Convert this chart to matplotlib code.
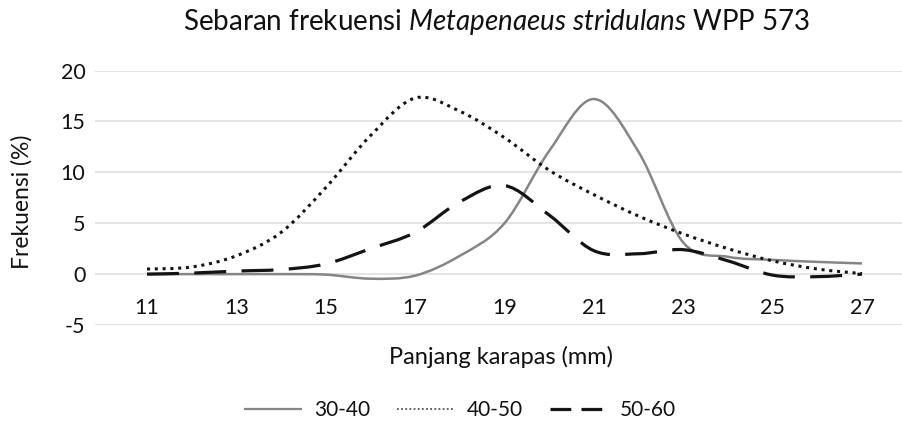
import matplotlib
matplotlib.use("Agg")
import matplotlib.pyplot as plt
from matplotlib.path import Path
from matplotlib.patches import PathPatch
from matplotlib.lines import Line2D
import numpy as np

# ── data ─────────────────────────────────────────────────────────────
panjang = [11, 12, 13, 14, 15, 16, 17, 18, 19, 20, 21, 22, 23, 24, 25, 26, 27]
tick_labels = ["11", "13", "15", "17", "19", "21", "23", "25", "27"]

frek_30_40 = [0, 0, 0, 0, -0.05, -0.45, -0.15, 1.8, 5.0, 12.1, 17.2, 12.0,
              3.1, 1.7, 1.4, 1.2, 1.05]
frek_40_50 = [0.5, 0.7, 1.8, 4.1, 8.5, 13.6, 17.3, 16.0, 13.4, 10.2, 7.8, 5.7,
              3.95, 2.5, 1.3, 0.5, 0.05]
frek_50_60 = [0.0, 0.1, 0.3, 0.45, 1.0, 2.5, 4.1, 7.1, 8.7, 5.8, 2.3, 2.0,
              2.4, 1.3, -0.1, -0.25, 0.0]

series_names = ["30-40", "40-50", "50-60"]

plt.rcParams['font.family'] = ['Lato', 'DejaVu Sans']
plt.rcParams['mathtext.fontset'] = 'custom'
plt.rcParams['mathtext.it'] = 'Lato:italic'
plt.rcParams['mathtext.rm'] = 'Lato'
plt.rcParams['axes.unicode_minus'] = False

TXT = '#111111'


def smooth_path(x, y):
    """Excel-like smoothed line: cubic Bezier segments through the points."""
    pts = np.column_stack([x, y]).astype(float)
    n = len(pts)
    verts = [pts[0]]
    codes = [Path.MOVETO]
    for i in range(n - 1):
        p0 = pts[max(i - 1, 0)]
        p1 = pts[i]
        p2 = pts[i + 1]
        p3 = pts[min(i + 2, n - 1)]
        verts += [p1 + (p2 - p0) / 6, p2 - (p3 - p1) / 6, p2]
        codes += [Path.CURVE4] * 3
    return Path(verts, codes)


styles = [
    dict(color='#858585', lw=1.8, ls='-'),
    dict(color='#141414', lw=2.2, ls=(0, (1, 1.55))),
    dict(color='#141414', lw=2.3, ls=(0, (10, 4.8))),
]
legend_styles = [
    dict(color='#858585', lw=1.6, ls='-'),
    dict(color='#555555', lw=1.3, ls=(0, (1, 1.3))),
    dict(color='#141414', lw=2.3, ls=(0, (6.5, 3.2))),
]

fig = plt.figure(figsize=(9.03, 4.21), dpi=100)
ax = fig.add_axes([0.1052, 0.228, 0.8948, 0.6045])

for yv, st in zip([frek_30_40, frek_40_50, frek_50_60], styles):
    ax.add_patch(PathPatch(smooth_path(panjang, yv), fill=False,
                           edgecolor=st['color'], lw=st['lw'],
                           linestyle=st['ls'], capstyle='butt',
                           joinstyle='round', zorder=3))

ax.set_xlim(9.836, 27.917)
ax.set_ylim(-5, 20)
ax.set_yticks([-5, 0, 5, 10, 15, 20])
ax.set_xticks([int(t) for t in tick_labels])
ax.set_xticklabels(tick_labels)

ax.grid(axis='y', color='#dcdcdc', lw=1.1)
ax.set_axisbelow(True)
for s in ax.spines.values():
    s.set_visible(False)
ax.spines['bottom'].set_position(('data', 0))
ax.tick_params(axis='x', length=0, pad=17, labelsize=15.5, labelcolor=TXT)
ax.tick_params(axis='y', length=0, pad=7, labelsize=15.5, labelcolor=TXT)

fig.text(497 / 903, 1 - 22 / 421,
         r"Sebaran frekuensi $\mathit{Metapenaeus\ stridulans}$ WPP 573",
         ha='center', va='center', fontsize=20, color=TXT)
fig.text(501 / 903, 1 - 357 / 421, "Panjang karapas (mm)",
         ha='center', va='center', fontsize=17, color=TXT)
fig.text(22 / 903, 1 - 202 / 421, "Frekuensi (%)", rotation=90,
         ha='center', va='center', fontsize=16.5, color=TXT)

handles = [Line2D([], [], color=st['color'], lw=st['lw'], linestyle=st['ls'],
                  solid_capstyle='butt', dash_capstyle='butt')
           for st in legend_styles]
fig.legend(handles, series_names, loc='center',
           bbox_to_anchor=(460 / 903, 1 - 410 / 421), ncol=3, frameon=False,
           fontsize=15, handlelength=2.8, handletextpad=0.55,
           columnspacing=1.3, labelcolor=TXT, borderpad=0, borderaxespad=0)

fig.savefig("out.png", dpi=100)
